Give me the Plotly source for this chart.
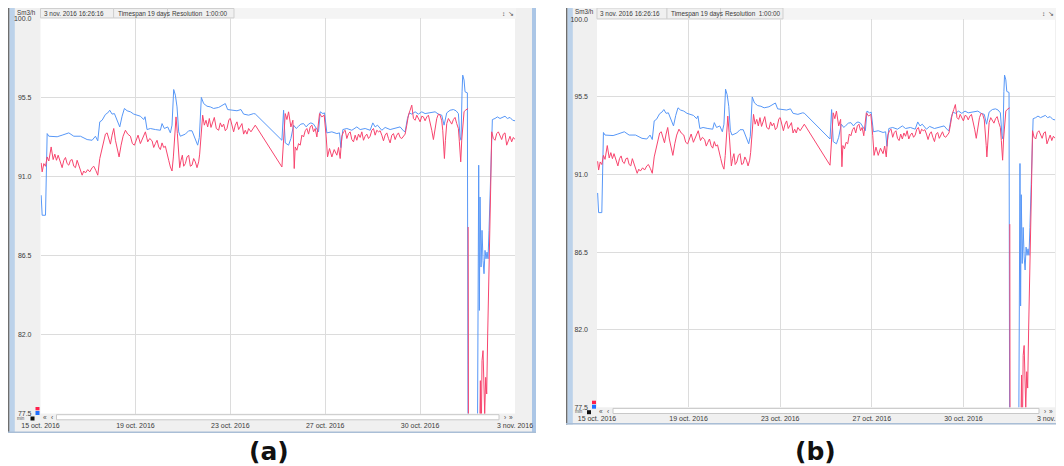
import plotly.graph_objects as go

# The page body has an 8 px margin, so the figure covers page pixels 8..1064 x 8..466.
OX, OY = 8, 8
W, H = 1064 - OX, 466 - OY

# ---------------- data (hours since 15 oct. 2016 16:26, Sm3/h) ----------------
blue_hours = [0.64, 1.6, 4.8, 6.4, 8.0, 16.0, 20.8, 27.2, 32.0, 38.4, 44.8, 49.6, 52.8, 55.04,
              56.96, 59.2, 62.4, 64.64, 66.56, 68.8, 71.04, 73.6, 76.16, 78.4, 80.64, 83.2, 86.4,
              89.6, 92.8, 96.0, 99.2, 100.48, 102.4, 105.6, 110.4, 115.2, 116.8, 119.04, 122.24,
              124.8, 126.4, 128.0, 129.6, 131.2, 132.8, 134.4, 139.2, 142.4, 145.6, 148.8, 151.04,
              152.64, 154.56, 156.8, 160.0, 163.2, 166.4, 171.2, 177.6, 179.84, 184.0, 188.8,
              192.64, 195.2, 200.0, 204.8, 206.4,
              232.0, 233.6, 235.2, 238.4, 240.64, 243.2, 245.76, 248.0, 250.24, 252.8, 255.36,
              257.6, 259.84, 262.4, 264.96, 267.2, 268.8, 271.36, 272.96, 275.2, 280.0, 284.8,
              287.36, 288.64, 290.56, 294.4, 299.2, 304.0, 307.2, 312.0, 316.8, 319.36, 321.6,
              323.84, 328.0, 331.2, 336.0, 340.8, 345.6, 348.8, 350.4, 352.64, 354.56, 356.8,
              360.0, 363.2, 366.4, 369.6, 374.4, 379.2, 382.4, 385.6, 387.84, 390.4, 393.6,
              396.8, 399.36, 401.6, 403.2, 404.16, 405.12, 405.76, 407.04, 408.0, 410.24,
              410.88, 419.84, 420.16, 421.12, 421.76, 422.4, 423.36, 424.32, 425.28, 426.24,
              427.2, 428.16, 429.12, 430.08, 431.04, 432.0, 432.96, 434.24, 436.8, 439.04,
              441.6, 444.16, 446.4, 448.64, 451.2, 453.76, 456.0]
blue_flow = [89.93, 88.79, 88.79, 93.44, 93.29, 93.26, 93.35, 93.48, 93.29, 93.29, 93.10, 93.06,
             93.29, 93.03, 94.11, 94.20, 94.53, 94.62, 94.77, 94.55, 94.58, 94.24, 93.82, 94.43,
             94.87, 94.74, 94.68, 94.55, 94.49, 94.43, 94.24, 94.40, 93.67, 93.73, 93.67, 93.63,
             94.01, 93.73, 93.82, 93.48, 93.92, 95.95, 95.63, 94.96, 93.54, 93.29, 93.41, 93.60,
             93.60, 93.16, 92.78, 93.22, 95.50, 95.15, 95.00, 94.96, 94.87, 94.93, 95.15, 94.81,
             94.77, 94.74, 94.81, 94.55, 94.49, 94.58, 94.56,
             93.06, 94.77, 92.91, 92.78, 93.16, 93.92, 93.73, 93.86, 93.98, 94.01, 93.82, 93.98,
             94.05, 93.98, 93.73, 93.54, 94.68, 94.58, 94.62, 93.48, 93.54, 93.44, 93.48, 92.64,
             93.67, 93.73, 93.63, 93.82, 93.67, 93.73, 93.63, 94.05, 93.82, 93.92, 93.63, 93.79,
             93.67, 93.73, 93.82, 93.60, 93.54, 94.30, 94.62, 94.55, 94.68, 94.55, 94.68, 94.58,
             94.62, 94.68, 94.55, 94.49, 93.92, 94.62, 94.77, 94.81, 94.74, 94.58, 93.25, 93.06,
             95.82, 96.77, 96.49, 95.82, 95.76,
             75.0, 75.0, 80.51, 91.64, 83.37, 89.83, 85.84, 87.93, 86.22, 85.46, 86.79, 86.31,
             86.69, 86.31, 87.93, 90.02, 92.68, 94.24, 94.30, 94.39, 94.30, 94.39, 94.43, 94.30,
             94.36, 94.20, 94.17]

red_hours = [0.64, 1.6, 3.2, 4.8, 6.4, 8.0, 10.24, 12.16, 13.76, 15.36, 16.96, 19.2, 20.8, 22.4,
             24.0, 25.6, 27.2, 28.8, 30.4, 32.0, 33.6, 35.2, 36.8, 38.4, 40.0, 41.6, 43.2, 45.44,
             47.36, 49.6, 51.2, 53.12, 55.04, 56.96, 59.2, 60.8, 62.4, 64.0, 65.6, 67.2, 68.8,
             70.4, 72.0, 73.6, 75.52, 77.44, 79.36, 81.6, 83.84, 86.4, 88.32, 90.24, 92.16,
             93.76, 96.0, 98.56, 100.8, 103.04, 104.96, 107.2, 108.8, 110.4, 112.0, 113.6,
             115.2, 116.8, 118.4, 120.0, 121.6, 123.2, 124.8, 126.4, 127.68, 128.96, 130.24,
             131.52, 132.8, 133.76, 135.04, 136.32, 137.6, 139.2, 140.8, 142.4, 144.0, 145.6,
             147.2, 148.8, 150.4, 152.0, 152.96, 154.56, 155.84, 157.44, 159.04, 160.64,
             162.24, 163.84, 165.44, 167.04, 168.96, 171.2, 172.8, 174.4, 176.0, 177.6, 179.2,
             181.12, 182.4, 184.0, 185.6, 187.2, 188.8, 190.4, 192.0, 193.6, 195.2, 196.8,
             198.4, 200.0, 202.24, 204.16, 206.4,
             232.0, 233.6, 235.2, 236.8, 238.4, 240.64, 242.56, 243.84, 244.8, 246.4, 248.0,
             249.6, 251.2, 252.8, 254.4, 256.0, 257.6, 259.2, 260.8, 262.4, 264.0, 265.6,
             267.2, 268.16, 270.4, 272.64, 274.56, 275.84, 277.76, 280.0, 282.24, 284.8, 286.4,
             288.0, 289.6, 291.2, 292.8, 294.4, 296.0, 297.6, 299.2, 300.8, 302.4, 304.0,
             305.6, 307.2, 308.8, 310.4, 312.0, 313.6, 315.2, 316.8, 318.4, 320.0, 321.6,
             323.2, 324.8, 326.4, 328.0, 329.6, 331.2, 332.8, 334.4, 336.0, 337.6, 339.2,
             340.8, 342.4, 344.0, 345.6, 347.2, 348.8, 350.4, 352.0, 353.6, 355.2, 356.8,
             358.4, 360.0, 361.6, 363.2, 364.8, 366.4, 368.0, 369.6, 371.2, 372.8, 374.4,
             376.0, 377.6, 379.2, 380.8, 382.4, 384.0, 385.6, 386.56, 387.52, 388.16, 389.12,
             390.4, 392.0, 393.6, 395.2, 396.8, 398.4, 400.0, 401.6, 402.56, 403.84, 404.8,
             405.76, 407.04, 408.32, 409.6, 410.88,
             None,
             411.0, 411.3, 421.76, 422.72, 423.36, 424.32, 425.28, 425.92, 426.88, 427.84,
             428.8, 429.76, 430.72, 431.68, 432.64, 433.6, 435.2, 436.8, 438.4, 440.0, 441.6,
             443.2, 444.8, 446.4, 448.0, 449.6, 451.2, 452.8, 454.4, 456.0]
red_flow = [91.77, 91.26, 91.73, 91.58, 92.11, 91.88, 92.68, 91.96, 92.27, 91.92, 92.21, 91.83,
            91.50, 91.92, 92.08, 91.73, 91.64, 91.92, 91.96, 91.58, 91.50, 91.92, 91.64, 91.35,
            91.07, 91.31, 91.20, 91.39, 91.26, 91.50, 91.58, 91.35, 91.07, 92.02, 92.59, 93.03,
            93.41, 93.48, 93.10, 92.84, 93.35, 93.73, 93.06, 92.59, 92.11, 92.78, 93.29, 93.63,
            93.41, 93.29, 92.87, 92.78, 93.16, 93.35, 92.87, 93.22, 93.54, 92.97, 93.16, 93.03,
            92.65, 92.87, 93.06, 92.68, 92.53, 92.91, 92.65, 92.72, 92.21, 91.92, 91.54, 91.31,
            92.11, 93.54, 94.39, 93.44, 92.11, 91.50, 91.92, 92.21, 91.58, 91.73, 92.11, 92.21,
            91.58, 91.64, 92.02, 91.83, 91.50, 91.83, 92.27, 93.54, 94.49, 93.92, 94.20, 93.82,
            94.30, 93.79, 94.11, 94.36, 93.73, 93.63, 94.05, 93.82, 93.98, 93.60, 93.73, 94.24,
            94.30, 93.82, 93.54, 93.92, 94.11, 93.67, 93.82, 94.01, 93.41, 93.63, 93.41, 93.73,
            93.54, 93.73, 93.92,
            91.54, 93.25, 94.58, 94.24, 94.68, 93.82, 94.20, 91.45, 92.68, 92.49, 92.87, 92.78,
            93.35, 93.25, 93.60, 93.73, 93.41, 93.82, 93.92, 93.54, 93.73, 93.25, 94.24, 94.58,
            94.39, 94.49, 93.25, 92.11, 92.59, 92.11, 92.53, 92.21, 92.65, 92.02, 93.29, 93.54,
            93.63, 93.16, 93.44, 93.54, 93.10, 92.97, 93.35, 93.06, 93.41, 93.22, 93.54, 93.06,
            93.29, 93.41, 93.16, 93.29, 93.63, 93.73, 93.35, 93.63, 93.54, 93.60, 93.35, 93.03,
            93.35, 93.48, 93.16, 92.91, 93.35, 93.44, 93.10, 93.35, 93.48, 93.22, 93.16, 93.29,
            93.41, 93.92, 94.49, 94.77, 95.06, 94.30, 94.20, 94.49, 94.30, 94.11, 94.43, 94.39,
            94.17, 94.39, 94.49, 94.11, 93.63, 93.10, 93.73, 94.30, 94.55, 94.49, 94.17, 93.63,
            92.68, 92.02, 93.06, 94.01, 94.30, 94.11, 93.98, 94.24, 94.36, 94.01, 93.73, 92.97,
            91.83, 93.06, 94.01, 94.68, 94.77, 94.81, 94.87,
            None,
            88.12, 75.0, 75.0, 79.37, 75.0, 80.51, 81.08, 78.61, 77.47, 79.56, 78.61, 82.03,
            84.32, 86.98, 90.40, 93.54, 93.16, 93.06, 93.44, 93.54, 93.29, 93.10, 93.41, 93.48,
            92.78, 93.06, 93.29, 92.97, 93.22, 93.10]

y_ticks = [77.5, 82.0, 86.5, 91.0, 95.5, 100.0]
y_tick_labels = ["77.5", "82.0", "86.5", "91.0", "95.5", "100.0"]
x_ticks = [0, 91.2, 182.4, 273.6, 364.8, 456]
x_tick_labels = ["15 oct. 2016", "19 oct. 2016", "23 oct. 2016", "27 oct. 2016",
                 "30 oct. 2016", "3 nov. 2016"]
header_texts = ["3 nov. 2016 16:26:16", "Timespan 19 days", "Resolution  1:00:00"]
unit_label = "Sm3/h"
captions = ["(a)", "(b)"]

BLUE = "#5797f7"
RED = "#f7456e"
FONT = "Liberation Sans, Arial, sans-serif"

# ---------------- panel geometry (page pixels) ----------------
panels = [
    dict(frame=(8, 8, 536, 433), plot=(40.5, 18.4, 515, 413.5), right_strip=True,
         cells=(40.5, 113.6, 167.5, 234), cap=(268.5, 451)),
    dict(frame=(566, 7.5, 1070, 424.5), plot=(597, 19.4, 1055, 407.2), right_strip=False,
         cells=(597, 667, 720.5, 783), cap=(815, 451)),
]


def fx(x):
    return (x - OX) / W


def fy(y):
    return 1 - (y - OY) / H


def rect(x0, y0, x1, y1, fill, line=None, lw=1):
    return dict(type="rect", xref="paper", yref="paper", layer="below",
                x0=fx(x0), x1=fx(x1), y0=fy(y1), y1=fy(y0),
                fillcolor=fill,
                line=dict(width=0) if line is None else dict(color=line, width=lw))


def txt(x, y, s, size=7, anchor="left", color="#3a3a3a", family=FONT):
    return dict(x=fx(x), y=fy(y), xref="paper", yref="paper", text=s, showarrow=False,
                xanchor=anchor, yanchor="middle", font=dict(size=size, color=color, family=family))


fig = go.Figure()
shapes, annos = [], []

for i, p in enumerate(panels):
    fx0, fy0, fx1, fy1 = p["frame"]
    px0, py0, px1, py1 = p["plot"]
    xa = "x" if i == 0 else "x2"
    ya = "y" if i == 0 else "y2"
    # window
    shapes.append(rect(fx0, fy0, fx1, fy1, "#f0f0f0"))
    shapes.append(rect(fx0, fy0, fx0 + 1.6, fy1, "#6e6e6e"))
    shapes.append(rect(fx0 + 1.6, fy0, fx0 + 6.8, fy1, "#bcd2ea"))
    if p["right_strip"]:
        shapes.append(rect(fx1 - 4, fy0, fx1, fy1, "#abc6e6"))
    shapes.append(rect(fx0, fy1 - 1.6, fx1, fy1, "#a9bed6"))
    # plot area
    shapes.append(rect(px0, py0, px1, py1, "#ffffff"))
    # header strip and cells
    shapes.append(rect(px0, fy0, px1 + 1, py0, "#f4f4f4"))
    c = p["cells"]
    for k in range(3):
        shapes.append(rect(c[k], fy0 + 0.5, c[k + 1], py0 - 0.5, "#f0f0f0", "#cfcfcf"))
        annos.append(txt(c[k] + (1 if k == 0 else 2.0), (fy0 + py0) / 2 + 0.5, header_texts[k], 6.4))
    annos.append(txt(px1 - 12, (fy0 + py0) / 2, "↕", 6.5, "center", "#555"))
    annos.append(txt(px1 - 4, (fy0 + py0) / 2, "↘", 6.5, "center", "#555"))
    annos.append(txt(fx0 + 6.5, fy0 + 4.2, unit_label, 6.3))
    # scrollbar
    shapes.append(rect(px0 + 16, py1 + 1.2, px1 - 16, py1 + 6.3, "#ffffff", "#c8c8c8"))
    annos.append(txt(px0 + 4, py1 + 3.8, "«", 6.5, "center", "#444"))
    annos.append(txt(px0 + 11, py1 + 3.8, "‹", 6.5, "center", "#444"))
    annos.append(txt(px1 - 10, py1 + 3.8, "›", 6.5, "center", "#444"))
    annos.append(txt(px1 - 4, py1 + 3.8, "»", 6.5, "center", "#444"))
    # legend-ish squares at bottom left
    shapes.append(rect(px0 - 5, py1 - 6.5, px0 - 1, py1 - 3.2, "#ff1f4b"))
    shapes.append(rect(px0 - 5, py1 - 2.5, px0 - 1, py1 + 1.5, "#1f6fff"))
    shapes.append(rect(px0 - 10, py1 + 3, px0 - 6, py1 + 7, "#111111"))
    annos.append(txt(fx0 + 7, py1 + 4.5, "min", 4.5, "left", "#555"))
    # caption
    annos.append(txt(p["cap"][0], p["cap"][1], "<b>" + captions[i] + "</b>", 25, "center",
                     "#111111", "DejaVu Sans, Verdana, sans-serif"))

    for hrs, vals, col in ((blue_hours, blue_flow, BLUE), (red_hours, red_flow, RED)):
        fig.add_trace(go.Scatter(x=hrs, y=vals, mode="lines", xaxis=xa, yaxis=ya,
                                 line=dict(color=col, width=1), hoverinfo="skip",
                                 showlegend=False))

    axis_common = dict(showgrid=True, gridcolor="#dcdcdc", gridwidth=1, zeroline=False,
                       showline=False, ticks="", automargin=False,
                       tickfont=dict(size=7, color="#3a3a3a", family=FONT),
                       fixedrange=True)
    xkey = "xaxis" if i == 0 else "xaxis2"
    ykey = "yaxis" if i == 0 else "yaxis2"
    fig.update_layout(**{
        xkey: dict(domain=[fx(px0), fx(px1)], range=[0, 456], tickvals=x_ticks,
                   ticktext=x_tick_labels, anchor=ya, ticklabelstandoff=6,
                   ticklabeloverflow="allow", **axis_common),
        ykey: dict(domain=[fy(py1), fy(py0)], range=[77.5, 100], tickvals=y_ticks,
                   ticktext=y_tick_labels, anchor=xa, ticklabelstandoff=8, **axis_common),
    })

fig.update_layout(width=W, height=H, margin=dict(l=0, r=0, t=0, b=0, autoexpand=False),
                  paper_bgcolor="#ffffff", plot_bgcolor="rgba(0,0,0,0)",
                  shapes=shapes, annotations=annos, showlegend=False,
                  font=dict(family=FONT))

fig.write_html("out.html")
